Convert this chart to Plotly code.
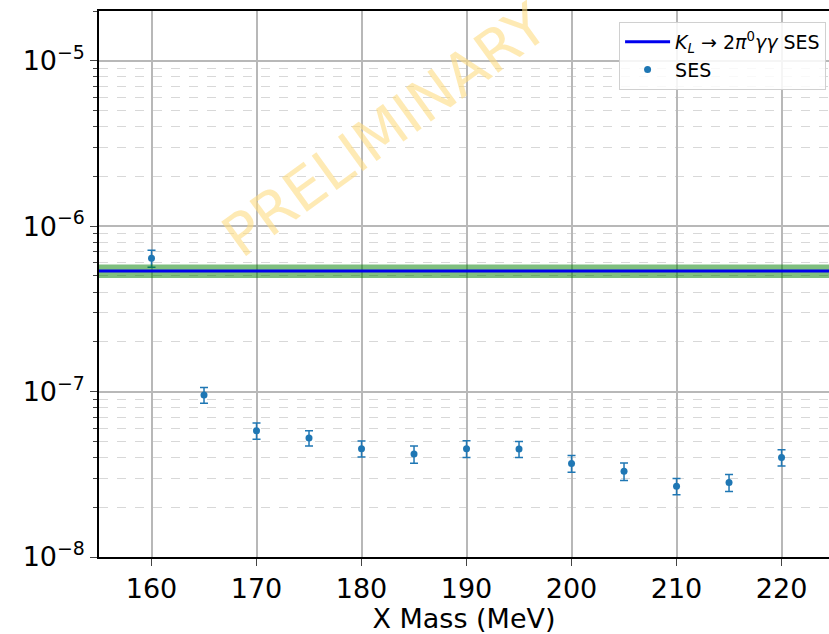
import plotly.graph_objects as go

# ---- data ----
x_mass = [160, 165, 170, 175, 180, 185, 190, 195, 200, 205, 210, 215, 220]
ses = [6.4e-7, 9.55e-8, 5.8e-8, 5.24e-8, 4.52e-8, 4.19e-8, 4.52e-8, 4.5e-8,
       3.68e-8, 3.3e-8, 2.68e-8, 2.82e-8, 4.0e-8]
ses_err = [7.5e-8, 1.05e-8, 6.5e-9, 5.5e-9, 5.0e-9, 5.0e-9, 5.2e-9, 5.0e-9,
           4.3e-9, 4.0e-9, 3.0e-9, 3.3e-9, 4.5e-9]
kl_ses = 5.36e-7
kl_ses_lo = 4.86e-7
kl_ses_hi = 5.87e-7

x_ticks = [160, 170, 180, 190, 200, 210, 220]
y_ticks = [1e-8, 1e-7, 1e-6, 1e-5]
y_ticktext = ["10<sup>−8</sup>", "10<sup>−7</sup>", "10<sup>−6</sup>", "10<sup>−5</sup>"]
y_minor = [m * 10.0 ** e for e in range(-8, -4) for m in range(2, 10)]

FONT = "DejaVu Sans"

fig = go.Figure()
fig.add_trace(go.Scatter(
    x=x_mass, y=ses, mode="markers", name="SES",
    marker=dict(color="#1f77b4", size=7),
    error_y=dict(type="data", array=ses_err, color="#1f77b4", thickness=1.5, width=4),
    legendrank=2,
))

fig.add_shape(type="rect", xref="paper", x0=0, x1=1, yref="y",
              y0=kl_ses_lo, y1=kl_ses_hi, fillcolor="rgba(0,128,0,0.5)",
              line=dict(width=0), layer="above")
fig.add_shape(type="line", xref="paper", x0=0, x1=1, yref="y",
              y0=kl_ses, y1=kl_ses, line=dict(color="#0000ee", width=3),
              showlegend=True, legendrank=1,
              name="<i>K</i><sub><i>L</i></sub> → 2<i>π</i><sup>0</sup><i>γγ</i> SES")

fig.add_annotation(text="PRELIMINARY", xref="paper", yref="paper",
                   x=0.392, y=0.782, xanchor="center", yanchor="middle",
                   showarrow=False, textangle=-36,
                   font=dict(family=FONT, size=58, color="rgba(253,220,130,0.6)"))

fig.update_layout(
    width=829, height=634,
    margin=dict(l=99, r=0, t=11, b=77),
    paper_bgcolor="white", plot_bgcolor="white",
    font=dict(family=FONT, color="black"),
    showlegend=True,
    legend=dict(x=0.996, xanchor="right", y=0.98, yanchor="top",
                bgcolor="rgba(255,255,255,0.85)", bordercolor="#d0d0d0", borderwidth=1,
                font=dict(family=FONT, size=19), tracegroupgap=0, itemwidth=45),
)
fig.update_xaxes(
    range=[155, 224.52], tickvals=x_ticks, ticks="outside", ticklen=7, tickwidth=1.2,
    tickfont=dict(size=27), showline=True, linecolor="black", linewidth=1.5, mirror=True,
    showgrid=True, gridcolor="#b8b8b8", gridwidth=2, zeroline=False,
    title=dict(text="X Mass (MeV)", font=dict(size=27), standoff=6),
)
fig.update_yaxes(
    type="log", range=[-8, -4.699], tickvals=y_ticks, ticktext=y_ticktext,
    ticks="outside", ticklen=7, tickwidth=1.2, tickfont=dict(size=27),
    showline=True, linecolor="black", linewidth=1.5, mirror=False,
    showgrid=True, gridcolor="#b8b8b8", gridwidth=2, zeroline=False,
    minor=dict(tickvals=y_minor, ticks="outside", ticklen=4, showgrid=True,
               gridcolor="#d8d8d8", griddash="dash", gridwidth=1),
)

fig.write_html("out.html")
